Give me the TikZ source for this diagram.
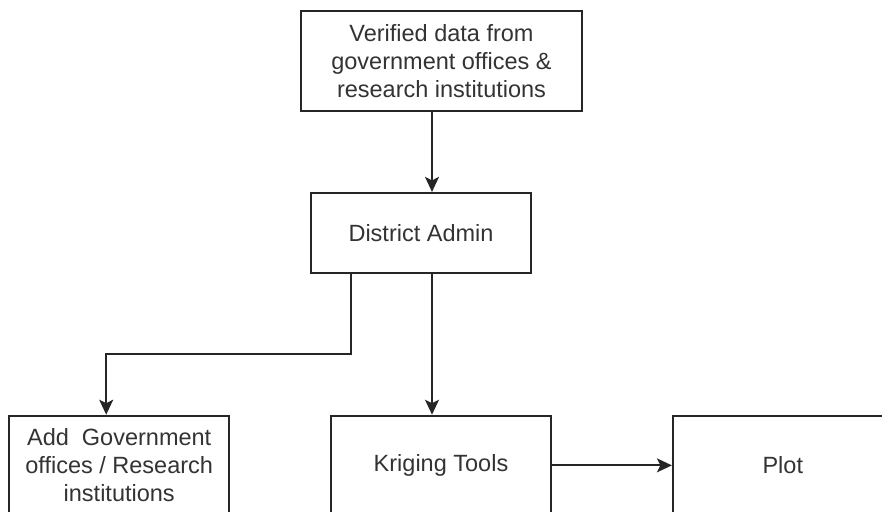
\documentclass[tikz,border=0pt]{standalone}
\usepackage{fontspec}
\setmainfont{Liberation Sans}
\usetikzlibrary{arrows.meta,positioning}
\tikzstyle{block} = [rectangle, draw=black!85, line width=1.8pt, text=black!80, align=center, inner sep=0pt, minimum width=220pt, minimum height=99.5pt, font=\fontsize{23.5}{28}\selectfont]
\tikzstyle{link} = [draw=black!85, line width=1.8pt, ->]

\begin{document}
\begin{tikzpicture}[>={Stealth[length=15pt,width=14pt,inset=3.5pt]}]
      \useasboundingbox (0,0) rectangle (882pt,-511pt);
      \clip (0,0) rectangle (882pt,-511pt);
      \node[block,minimum width=281pt,minimum height=100pt] (verified) at (441.5pt,-61pt) {Verified data from\\government offices \&\\research institutions};
      \node[block,minimum height=80pt,below=80pt of verified,xshift=-20.5pt] (district) {District Admin};
      \node[block,below=141pt of district,xshift=20pt] (kriging) {Kriging Tools};
      \node[block,left=100pt of kriging] (addoffices) {Add\ \ Government\\offices / Research\\institutions};
      \node[block,right=120pt of kriging] (plot) {Plot};
      %
      \draw[link] ([xshift=11pt]district.north |- verified.south) -- ([xshift=11pt]district.north);
      \draw[link] ([xshift=11pt]district.south) -- ([xshift=11pt]district.south |- kriging.north);
      \draw[link] ([xshift=-70pt]district.south) -- ++(0,-80pt) -| ([xshift=-13pt]addoffices.north);
      \draw[link] (kriging) -- (plot);
    \end{tikzpicture}
\end{document}
